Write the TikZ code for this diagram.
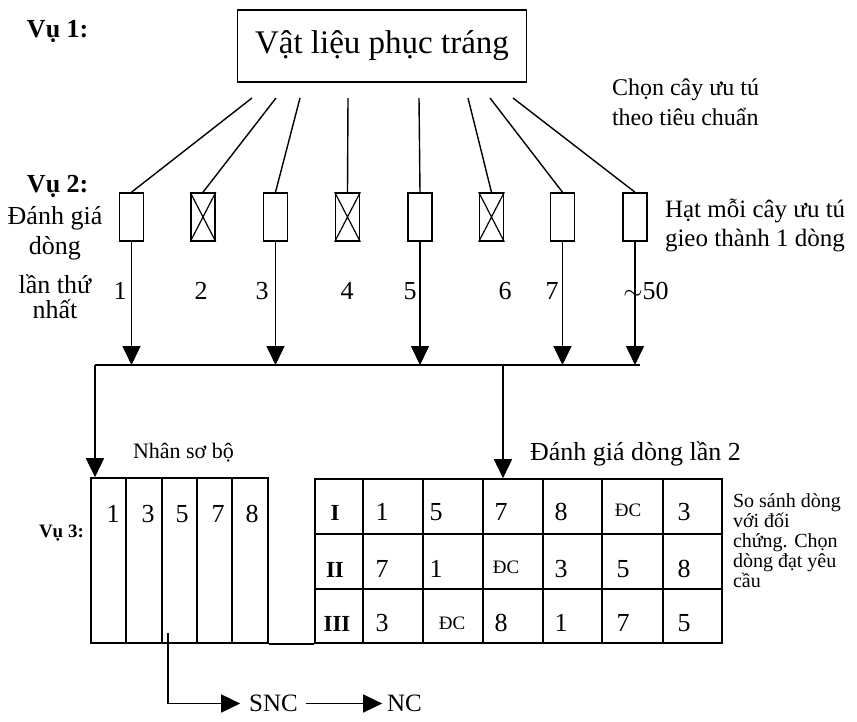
\documentclass[tikz,border=0pt]{standalone}
\usepackage{fontspec}
\setmainfont{Liberation Serif}
\usetikzlibrary{arrows.meta}
\newcommand\fsz[2]{\fontsize{#1}{#2}\selectfont}
\begin{document}
\begin{tikzpicture}[x=1pt,y=-1pt,
  txt/.style={inner sep=0pt, outer sep=0pt},
  ln/.style={line width=1.6pt},
  thin/.style={line width=1.2pt},
  arr/.style={line width=1.6pt, -{Triangle[length=19pt,width=18pt]}},
  seedbox/.style={draw, line width=1.6pt, minimum width=24pt, minimum height=48pt, inner sep=0pt},
  num/.style={txt, anchor=base, font=\fsz{26}{30}},
  roman/.style={txt, anchor=base, font=\fsz{23}{26}\bfseries},
  dc/.style={txt, anchor=base, font=\fsz{19}{20}},
]
\useasboundingbox (0,0) rectangle (857,721);

% top box
\node[draw, line width=1.6pt, minimum width=289pt, minimum height=72pt, inner sep=0pt,
      font=\fsz{33}{36}] (mat) at (382,46) {Vật liệu phục tráng};

% season labels
\node[txt, anchor=base west, font=\fsz{26}{30}\bfseries] (vu1) at (27,37) {Vụ 1:};
\node[txt, anchor=base west, font=\fsz{26}{30}\bfseries] (vu2) at (27,192) {Vụ 2:};
\node[txt, anchor=base west, font=\fsz{19}{20}\bfseries] (vu3) at (39,537) {Vụ 3:};

% side notes (base anchor = last line)
\node[txt, anchor=base west, align=left, font=\fsz{24}{30}] (chon) at (612,125)
  {Chọn cây ưu tú\\theo tiêu chuẩn};
\node[txt, anchor=base west, align=left, font=\fsz{25}{29}] (hat) at (665,246)
  {Hạt mỗi cây ưu tú\\gieo thành 1 dòng};
\node[txt, anchor=base, align=center, font=\fsz{26}{30}] (dg1) at (55,318)
  {Đánh giá\\dòng\\[9pt]lần thứ\\[-5pt]nhất};

% seed rows (vụ 2)
\foreach \i/\x in {1/131.5,2/203,3/275.5,4/347.5,5/420,6/491.5,7/562.5,8/635}
  \node[seedbox] (b\i) at (\x,217) {};
\foreach \i in {2,4,6}
  \draw[thin] (b\i.north west) -- (b\i.south east) (b\i.north east) -- (b\i.south west);

% lines from the material box
\foreach \i/\x in {1/252,2/276,3/300,4/348,5/419,6/468,7/490,8/513} {
  \coordinate (s\i) at (\x,98);
  \draw[line width=1.4pt] (s\i) -- (b\i.north);
}

% row numbers
\foreach \x/\t/\n in {120/1/n1,201/2/n2,262/3/n3,347/4/n4,410/5/n5,505/6/n6,552/7/n7}
  \node[num] (\n) at (\x,299) {\t};
\node[num] (n50) at (646,299) {$\sim$50};

% collector line and arrows
\coordinate (hL) at (95,365);
\coordinate (hR) at (640,365);
\coordinate (hB) at (503,365);
\draw[ln] (hL) -- (hR);
\foreach \i in {1,3,5,7,8}
  \draw[arr] (b\i.south) -- (b\i.south |- hL);

% left plot (nhân sơ bộ)
\node[draw, line width=1.6pt, minimum width=177pt, minimum height=165pt, inner sep=0pt]
  (ltab) at (179.5,560.5) {};
\foreach \x in {126,162,197,232}
  \draw[thin] (ltab.north -| \x,0) -- (ltab.south -| \x,0);
\foreach \x/\t [count=\k] in {113/1,148/3,182/5,218/7,252/8}
  \node[num] (lp\k) at (\x,522) {\t};
\node[txt, anchor=base west, font=\fsz{22}{26}] (nsb) at (133,458) {Nhân sơ bộ};

% right table (đánh giá dòng lần 2)
\node[draw, line width=1.6pt, minimum width=407pt, minimum height=164pt, inner sep=0pt]
  (rtab) at (518.5,561) {};
\foreach \x in {363,423,483,543,602,663}
  \draw[thin] (rtab.north -| \x,0) -- (rtab.south -| \x,0);
\foreach \y in {534,589}
  \draw[thin] (rtab.west |- 0,\y) -- (rtab.east |- 0,\y);
\node[txt, anchor=base west, font=\fsz{26}{28}] (dg2) at (530,460) {Đánh giá dòng lần 2};

% row I
\node[roman] (r1c1) at (335,520) {I};
\node[num] (r1c2) at (382,520) {1};
\node[num] (r1c3) at (436,520) {5};
\node[num] (r1c4) at (501,520) {7};
\node[num] (r1c5) at (561,520) {8};
\node[dc]  (r1c6) at (628,516) {ĐC};
\node[num] (r1c7) at (684,520) {3};
% row II
\node[roman] (r2c1) at (335,577) {II};
\node[num] (r2c2) at (382,577) {7};
\node[num] (r2c3) at (436,577) {1};
\node[dc]  (r2c4) at (506,573) {ĐC};
\node[num] (r2c5) at (561,577) {3};
\node[num] (r2c6) at (623,577) {5};
\node[num] (r2c7) at (684,577) {8};
% row III
\node[roman] (r3c1) at (337,631) {III};
\node[num] (r3c2) at (382,631) {3};
\node[dc]  (r3c3) at (452,629) {ĐC};
\node[num] (r3c4) at (501,631) {8};
\node[num] (r3c5) at (561,631) {1};
\node[num] (r3c6) at (623,631) {7};
\node[num] (r3c7) at (684,631) {5};

\node[txt, anchor=base west, align=left, font=\fsz{20}{20}] (note) at (733,587)
  {So sánh dòng\\với đối\\chứng. Chọn\\dòng đạt yêu\\cầu};

% arrows into the plots
\draw[arr] (hL) -- (hL |- ltab.north);
\draw[arr] (hB) -- (hB |- rtab.north);
\draw[ln] (ltab.south east) -- (rtab.south west);

% bottom: SNC -> NC
\node[txt, font=\fsz{25}{28}] (snc) at (273.5,703.5) {SNC};
\node[txt, font=\fsz{25}{28}] (nc) at (404.5,703.5) {NC};
\coordinate (tap) at (168,633);
\draw[arr, shorten >=9pt] (tap) |- (snc.west);
\draw[arr, shorten <=8pt, shorten >=5pt] (snc.east) -- (nc.west);
\end{tikzpicture}
\end{document}
